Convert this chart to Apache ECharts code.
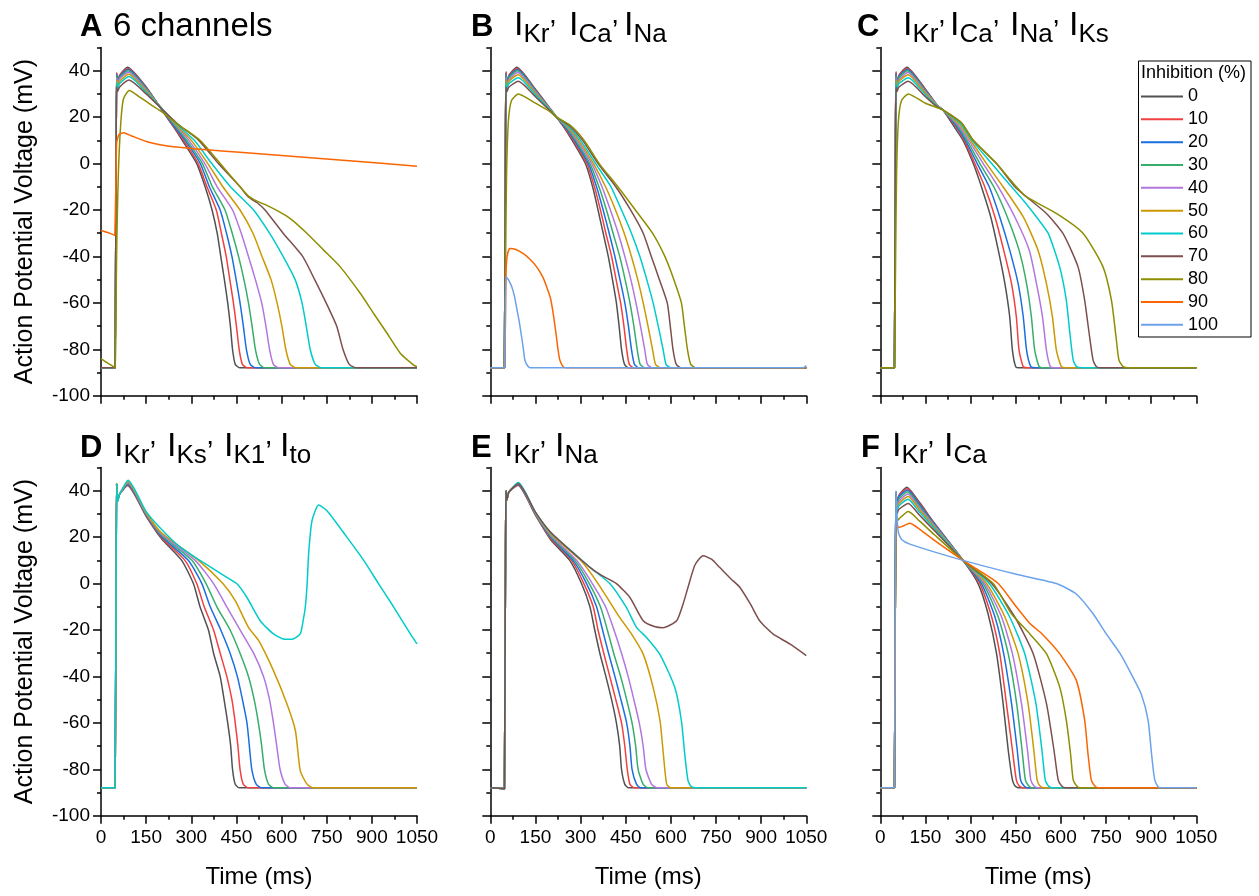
<!DOCTYPE html>
<html>
<head>
<meta charset="utf-8">
<script src="https://cdn.jsdelivr.net/npm/echarts@6/dist/echarts.min.js"></script>
<style>html,body{margin:0;padding:0;background:#fff}#c{width:1259px;height:896px}</style>
</head>
<body>
<div id="c"></div>
<script>
// ---------------- DATA ----------------
const levels = ['0','10','20','30','40','50','60','70','80','90','100'];
const yTickValues = [-100,-80,-60,-40,-20,0,20,40];

// Panel A: 6 channels
const apA = [
[[0,-88],[47,-88],[49,-88],[50.5,10],[52,39],[55,35],[62,38],[88,41.5],[150,33],[200,23.5],[240,16],[270,10],[318,0],[346,-10],[369,-20],[386,-30],[398,-40],[410,-50],[421,-60],[430,-70],[437,-80],[446,-86.5],[462,-88],[1050,-88]],
[[0,-88],[47,-88],[49,-88],[50.5,10],[52,39],[55,35],[62,38],[89,41],[150,32.8],[200,23.6],[240,16.3],[275,10],[323,0],[352,-10],[383,-20],[400,-30],[416,-40],[428,-50],[440,-60],[450,-70],[459,-80],[470,-86.5],[488,-88],[1050,-88]],
[[0,-88],[47,-88],[49,-88],[50.5,10],[52,38.5],[55,35],[62,37.5],[90,40.5],[150,32.5],[200,23.7],[240,16.6],[280,10],[330,0],[360,-10],[396,-20],[417,-30],[435,-40],[449,-50],[462,-60],[473,-70],[483,-80],[496,-86.5],[515,-88],[1050,-88]],
[[0,-88],[47,-88],[49,-88],[50.5,10],[52,38],[55,34.5],[62,37],[90,40],[150,32.2],[200,23.8],[245,16.5],[285,10],[337,0],[370,-10],[412,-20],[436,-30],[457,-40],[475,-50],[490,-60],[502,-70],[513,-80],[527,-86.5],[545,-88],[1050,-88]],
[[0,-88],[47,-88],[49,-88],[50.5,10],[52,37],[55,34],[62,36.5],[91,39.3],[150,31.8],[200,23.9],[250,16.3],[292,10],[345,0],[386,-10],[437,-20],[466,-30],[490,-40],[513,-50],[534,-60],[548,-70],[560,-80],[573,-86.5],[592,-88],[1050,-88]],
[[0,-88],[47,-88],[49,-88],[50.5,10],[52,36],[55,33],[62,35.5],[92,38.5],[150,31.3],[200,24],[250,16.6],[300,10],[355,0],[405,-10],[462,-20],[505,-30],[535,-40],[565,-50],[585,-60],[601,-70],[614,-80],[629,-86.5],[650,-88],[1050,-88]],
[[0,-88],[47,-88],[49,-88],[50.5,10],[52,35],[55,32],[62,34.5],[93,37.5],[150,30.7],[200,24],[255,16.5],[310,10],[368,0],[430,-10],[507,-20],[560,-30],[605,-40],[645,-50],[668,-60],[682,-70],[695,-80],[712,-86.5],[735,-88],[1050,-88]],
[[0,-88],[47,-88],[49,-88],[50.5,10],[52,33],[55,31],[62,33],[93,36],[150,30],[200,23.8],[260,16.5],[325,10],[390,0],[462,-10],[490,-14.4],[520,-17],[545,-20],[605,-30],[670,-40],[710,-50],[748,-60],[783,-70],[804,-80],[825,-86.5],[850,-88],[1050,-88]],
[[0,-84],[20,-85.8],[45,-87.8],[48,-88],[50,-60],[53,-30],[58,-3],[66,18],[75,28],[94,31.5],[130,28.5],[170,25],[200,22.5],[260,16.5],[329,10],[396,0],[462,-10],[490,-14],[520,-16.3],[551,-18],[590,-20.6],[629,-23.7],[684,-30],[740,-37.3],[795,-44.5],[862,-56],[906,-64.6],[950,-73],[995,-81.8],[1039,-86.8],[1050,-87.5]],
[[0,-28.7],[25,-29.8],[46,-30.9],[48,-31],[50,-5],[52,9],[60,12.5],[75,13.3],[100,12],[150,9.5],[200,8],[260,7],[374,5.7],[450,5],[600,3.5],[750,2],[900,0.5],[1050,-1.2]],
null
];

// Panel B: IKr, ICa, INa
const apB = [
[[0,-88],[47,-88],[49,-88],[50.5,10],[52,39.5],[55,35],[62,38],[88,41.5],[150,32],[200,23.5],[220,20],[248,15],[272,10],[316,0],[340,-10],[358,-20],[375,-30],[392,-40],[406,-50],[419,-60],[428,-70],[436,-80],[446,-86.5],[460,-88],[1050,-88]],
[[0,-88],[47,-88],[49,-88],[50.5,10],[52,39],[55,35],[62,38],[89,41],[150,31.8],[200,23.4],[220,20],[250,15],[276,10],[321,0],[346,-10],[366,-20],[384,-30],[403,-40],[418,-50],[433,-60],[444,-70],[453,-80],[462,-86.5],[478,-88],[1050,-88]],
[[0,-88],[47,-88],[49,-88],[50.5,10],[52,38.5],[55,34.5],[62,37.5],[90,40.5],[150,31.5],[200,23.3],[220,20],[252,15.2],[280,10],[326,0],[353,-10],[375,-20],[395,-30],[414,-40],[431,-50],[447,-60],[459,-70],[469,-80],[479,-86.5],[495,-88],[1050,-88]],
[[0,-88],[47,-88],[49,-88],[50.5,10],[52,38],[55,34],[62,37],[90,40],[150,31.2],[200,23.2],[220,20],[254,15.4],[284,10],[331,0],[361,-10],[386,-20],[408,-30],[430,-40],[448,-50],[464,-60],[477,-70],[488,-80],[498,-86.5],[515,-88],[1050,-88]],
[[0,-88],[47,-88],[49,-88],[50.5,10],[52,37],[55,33.5],[62,36],[91,39.2],[150,30.8],[200,23.1],[220,20],[256,15.6],[289,10],[337,0],[371,-10],[399,-20],[425,-30],[447,-40],[467,-50],[484,-60],[499,-70],[513,-80],[522,-86.5],[540,-88],[1050,-88]],
[[0,-88],[47,-88],[49,-88],[50.5,10],[52,36],[55,33],[62,35.5],[92,38.3],[150,30.3],[200,23],[220,20],[258,15.8],[294,10],[343,0],[383,-10],[416,-20],[445,-30],[469,-40],[490,-50],[508,-60],[524,-70],[539,-80],[549,-86.5],[568,-88],[1050,-88]],
[[0,-88],[47,-88],[49,-88],[50.5,10],[52,35],[55,32],[62,34.5],[93,37],[150,29.6],[200,22.8],[220,20],[260,16],[300,10],[350,0],[401,-10],[436,-20],[469,-30],[497,-40],[520,-50],[541,-60],[558,-70],[574,-80],[584,-86.5],[602,-88],[1050,-88]],
[[0,-88],[47,-88],[49,-88],[50.5,10],[52,33],[55,31],[62,33],[93,35.5],[150,28.8],[200,22.5],[220,20],[263,16.3],[307,10],[358,0],[417,-10],[466,-20],[508,-30],[535,-40],[562,-50],[588,-60],[598,-70],[607,-80],[618,-86.5],[636,-88],[1050,-88]],
[[0,-88],[47,-88],[49,-88],[51,-40],[54,-5],[60,18],[70,27],[93,30],[150,26],[200,22.2],[220,20],[265,16.6],[312,10],[362,0],[424,-10],[482,-20],[539,-30],[580,-40],[610,-50],[635,-60],[645,-70],[655,-80],[666,-86.5],[685,-88],[1050,-88]],
[[0,-88],[47,-88],[49,-88],[50,-70],[52,-48],[56,-40],[65,-36.6],[85,-37],[110,-38.8],[130,-41],[154,-44.5],[175,-49],[187,-53],[200,-58],[209,-64.6],[216,-71],[221,-76],[226,-81],[231,-84.6],[242,-87.5],[255,-88],[1050,-88]],
[[0,-88],[47,-88],[49,-88],[50,-70],[52,-48.8],[60,-50],[71,-53],[80,-57],[87,-61.7],[96,-68],[104,-74.6],[110,-80],[115,-84.7],[125,-87.3],[135,-88],[1040,-88],[1050,-87]]
];

// Panel C: IKr, ICa, INa, IKs
const apC = [
[[0,-88],[47,-88],[49,-88],[50.5,10],[52,39.5],[55,35],[62,38],[88,41.5],[150,32],[190,25],[209,23],[250,15],[275,10],[309,0],[336,-10],[367,-23],[392,-37.3],[414,-51.7],[430,-66],[439,-80.4],[450,-87.5],[465,-88],[1050,-88]],
[[0,-88],[47,-88],[49,-88],[50.5,10],[52,39],[55,35],[62,38],[89,41],[150,31.8],[190,25],[209,23],[250,16],[279,10],[314,0],[347,-10],[381,-23],[410,-37.3],[436,-51.7],[452,-66],[461,-80.4],[475,-87.5],[490,-88],[1050,-88]],
[[0,-88],[47,-88],[49,-88],[50.5,10],[52,38.5],[55,34.5],[62,37.5],[90,40.5],[150,31.5],[190,25],[209,23],[252,16.3],[283,10],[322,0],[362,-10],[397,-23],[430,-37.3],[458,-51.7],[475,-66],[486,-80.4],[500,-87.5],[515,-88],[1050,-88]],
[[0,-88],[47,-88],[49,-88],[50.5,10],[52,38],[55,34],[62,37],[90,40],[150,31.2],[190,25],[209,23],[255,16.5],[288,10],[331,0],[377,-10],[422,-23],[461,-37.3],[486,-51.7],[502,-66],[513,-80.4],[528,-87.5],[545,-88],[1050,-88]],
[[0,-88],[47,-88],[49,-88],[50.5,10],[52,37],[55,33.5],[62,36],[91,39.2],[150,30.8],[190,25],[209,23],[258,16.7],[294,10],[342,0],[392,-10],[447,-23],[495,-37.3],[519,-51.7],[539,-66],[552,-80.4],[565,-87.5],[582,-88],[1050,-88]],
[[0,-88],[47,-88],[49,-88],[50.5,10],[52,36],[55,33],[62,35.5],[92,38.3],[150,30.3],[190,24.8],[209,23],[262,17],[300,10],[353,0],[408,-10],[475,-23],[524,-37.3],[552,-51.7],[572,-66],[585,-80.4],[602,-87.5],[620,-88],[1050,-88]],
[[0,-88],[47,-88],[49,-88],[50.5,10],[52,35],[55,32],[62,34.5],[93,37],[150,29.6],[190,24.6],[209,23],[266,17.3],[305,10],[370,0],[436,-10],[475,-15.8],[519,-23],[558,-30.1],[596,-44.5],[618,-58.8],[630,-73.2],[641,-84.7],[652,-87.5],[670,-88],[1050,-88]],
[[0,-88],[47,-88],[49,-88],[50.5,10],[52,33],[55,31],[62,33],[93,35.5],[150,28.8],[190,24.3],[209,23],[270,17.5],[309,10],[386,0],[447,-10],[486,-14.4],[552,-21.5],[607,-30.1],[657,-44.5],[679,-58.8],[694,-73.2],[707,-84.7],[718,-87.5],[735,-88],[1050,-88]],
[[0,-88],[47,-88],[49,-88],[51,-40],[54,-5],[60,18],[70,27],[93,30],[150,26],[209,23],[270,17.5],[309,10],[386,0],[452,-10],[486,-14.4],[585,-21.5],[674,-30.1],[740,-44.5],[768,-58.8],[782,-73.2],[793,-84.7],[807,-87.5],[825,-88],[1050,-88]],
null,
null
];

// Panel D: IKr, IKs, IK1, Ito
const apD = [
[[0,-88],[47,-88],[49,-88],[50.5,10],[52,43],[55,35.5],[62,38.5],[88,42.2],[150,29],[200,19.5],[268,10],[307,0],[329,-10],[357,-20],[374,-30],[396,-40],[409,-50],[421,-60],[431,-70],[437,-80],[446,-86.5],[460,-88],[1050,-88]],
[[0,-88],[47,-88],[49,-88],[50.5,10],[52,43],[55,35.5],[62,38.5],[88,42.5],[150,29.3],[200,20],[279,10],[318,0],[343,-10],[374,-20],[396,-30],[418,-40],[435,-50],[446,-60],[455,-70],[462,-80],[473,-86.5],[490,-88],[1050,-88]],
[[0,-88],[47,-88],[49,-88],[50.5,10],[52,43],[55,35.5],[62,38.5],[89,42.8],[150,29.6],[200,20.5],[290,10],[335,0],[363,-10],[398,-20],[429,-30],[453,-40],[470,-50],[485,-60],[493,-70],[501,-80],[516,-86.5],[535,-88],[1050,-88]],
[[0,-88],[47,-88],[49,-88],[50.5,10],[52,43],[55,35.5],[62,38.5],[89,43.2],[150,29.9],[200,21],[302,10],[349,0],[385,-10],[429,-20],[462,-30],[490,-40],[509,-50],[523,-60],[534,-70],[543,-80],[557,-86.5],[575,-88],[1050,-88]],
[[0,-88],[47,-88],[49,-88],[50.5,10],[52,43],[55,35.5],[62,38.5],[90,43.5],[150,30.2],[200,21.5],[313,10],[374,0],[418,-10],[462,-20],[507,-30],[540,-40],[560,-50],[573,-60],[584,-70],[595,-80],[612,-86.5],[630,-88],[1050,-88]],
[[0,-88],[47,-88],[49,-88],[50.5,10],[52,43],[55,35.5],[62,38.5],[90,44],[150,30.5],[200,22],[324,10],[405,0],[446,-7.4],[490,-18.9],[524,-24.6],[573,-37.5],[618,-51.9],[646,-63.4],[662,-80.6],[684,-86.3],[705,-88],[1050,-88]],
[[0,-88],[47,-88],[49,-88],[50.5,10],[52,43],[55,35.5],[62,38.5],[90,44.5],[150,31],[200,23.5],[260,16],[329,10],[418,2.7],[451,0],[485,-6],[529,-16],[573,-21.7],[610,-24],[635,-24],[662,-21.7],[673,-15],[679,-10],[685,0],[690,13],[701,27],[723,33.8],[751,31.4],[817,20],[873,10],[922,0],[972,-10],[1028,-21.7],[1050,-26]],
null, null, null, null
];

// Panel E: IKr, INa
const apE = [
[[0,-88],[40,-88.3],[47,-88.5],[49,-88.5],[50.5,10],[52,40],[55,36],[62,39.5],[92,42.3],[150,29.5],[200,19],[264,10],[303,0],[331,-10],[347,-20],[364,-30],[384,-40],[403,-50],[419,-60],[430,-70],[436,-80],[447,-86.5],[460,-88],[1050,-88]],
[[0,-88],[40,-88.3],[47,-88.5],[49,-88.5],[50.5,10],[52,40],[55,36],[62,39.5],[92,42.5],[150,29.7],[200,19.5],[270,10],[311,0],[342,-10],[358,-20],[377,-30],[397,-40],[417,-50],[436,-60],[447,-70],[455,-80],[464,-86.5],[480,-88],[1050,-88]],
[[0,-88],[40,-88.3],[47,-88.5],[49,-88.5],[50.5,10],[52,40],[55,36],[62,39.5],[92,42.7],[150,29.9],[200,20],[275,10],[320,0],[353,-10],[373,-20],[393,-30],[414,-40],[434,-50],[453,-60],[464,-70],[471,-80],[486,-86.5],[500,-88],[1050,-88]],
[[0,-88],[40,-88.3],[47,-88.5],[49,-88.5],[50.5,10],[52,40],[55,36],[62,39.5],[93,42.9],[150,30.1],[200,20.5],[281,10],[329,0],[366,-10],[389,-20],[410,-30],[433,-40],[453,-50],[471,-60],[483,-70],[491,-80],[508,-86.5],[525,-88],[1050,-88]],
[[0,-88],[40,-88.3],[47,-88.5],[49,-88.5],[50.5,10],[52,40],[55,36],[62,39.5],[93,43.1],[150,30.3],[200,21],[287,10],[339,0],[383,-10],[411,-20],[436,-30],[458,-40],[477,-50],[495,-60],[508,-70],[517,-80],[536,-86.5],[555,-88],[1050,-88]],
[[0,-88],[40,-88.3],[47,-88.5],[49,-88.5],[50.5,10],[52,40],[55,36],[62,39.5],[93,43.3],[150,30.5],[200,21.5],[300,10],[358,0],[430,-14.6],[469,-21.7],[508,-30.4],[541,-44.7],[564,-59.1],[575,-73.4],[586,-86.4],[600,-88],[1050,-88]],
[[0,-88],[40,-88.3],[47,-88.5],[49,-88.5],[50.5,10],[52,40],[55,36],[62,39.5],[93,43.5],[150,30.7],[200,22],[270,14],[331,7],[397,0],[452,-10.3],[486,-18.9],[519,-23.2],[563,-30.4],[613,-44.7],[635,-59.1],[646,-73.4],[657,-84.9],[668,-87.5],[685,-88],[1050,-88]],
[[0,-88],[40,-88.3],[47,-88.5],[49,-88.5],[50.5,10],[52,40],[55,36],[62,39.5],[93,43],[150,30.8],[200,22.2],[260,15],[331,7],[370,3.5],[419,0],[464,-6],[508,-16],[545,-18.5],[574,-19],[619,-16],[640,-9],[657,-1.6],[680,8],[707,12],[735,10.5],[762,7],[800,2],[829,-1.6],[865,-9],[895,-16],[939,-21.7],[995,-26],[1050,-31]],
null, null, null
];

// Panel F: IKr, ICa
const apF = [
[[0,-88],[47,-88],[49,-88],[50.5,10],[52,39.5],[55,35],[62,38],[88,41.5],[130,35],[180,26],[275,10],[325,0],[358,-13],[386,-30],[408,-51.6],[425,-71.7],[439,-84.6],[447,-87.1],[460,-88],[1050,-88]],
[[0,-88],[47,-88],[49,-88],[50.5,10],[52,39],[55,35],[62,38],[89,41],[130,34.5],[180,25.8],[275,10],[331,0],[370,-14.4],[397,-30.2],[419,-51.6],[439,-71.7],[452,-84.6],[461,-87.1],[475,-88],[1050,-88]],
[[0,-88],[47,-88],[49,-88],[50.5,10],[52,38.5],[55,34.5],[62,37.5],[90,40.3],[130,34],[180,25.6],[275,10],[336,0],[381,-14.4],[410,-30.2],[436,-51.6],[455,-71.7],[466,-84.6],[477,-87.1],[490,-88],[1050,-88]],
[[0,-88],[47,-88],[49,-88],[50.5,10],[52,38],[55,34],[62,36.5],[90,39.5],[130,33.3],[180,25.1],[275,10],[342,0],[392,-14.4],[425,-30.2],[453,-51.6],[471,-71.7],[482,-84.6],[493,-87.1],[505,-88],[1050,-88]],
[[0,-88],[47,-88],[49,-88],[50.5,10],[52,37],[55,33],[62,35.5],[91,38.6],[130,32.6],[180,24.8],[275,10],[347,0],[403,-14.4],[439,-30.2],[469,-51.6],[489,-71.7],[500,-84.6],[510,-87.1],[522,-88],[1050,-88]],
[[0,-88],[47,-88],[49,-88],[50.5,10],[52,36],[55,32],[62,34.5],[92,37.5],[130,31.8],[180,24.3],[275,10],[353,0],[414,-14.4],[458,-30.2],[491,-51.6],[510,-71.7],[521,-84.6],[530,-87.1],[542,-88],[1050,-88]],
[[0,-88],[47,-88],[49,-88],[50.5,10],[52,35],[55,31],[62,33.5],[92,36.3],[130,30.8],[180,23.7],[275,10],[362,0],[430,-14.4],[480,-30.2],[517,-51.6],[537,-71.7],[548,-84.6],[558,-87.1],[570,-88],[1050,-88]],
[[0,-88],[47,-88],[49,-88],[50.5,10],[52,34],[55,30],[62,32],[93,34.5],[130,29.5],[180,22.8],[275,10],[370,0],[447,-14.4],[508,-30.2],[552,-51.6],[577,-71.7],[591,-84.6],[602,-87.1],[615,-88],[1050,-88]],
[[0,-88],[47,-88],[49,-88],[50.5,10],[52,34],[56,27],[63,28],[93,31],[130,27],[180,21],[275,10],[375,0],[436,-13],[497,-21.7],[552,-30.2],[596,-44.5],[618,-58.8],[632,-73.2],[641,-84.6],[652,-87.1],[665,-88],[1050,-88]],
[[0,-88],[47,-88],[49,-88],[50.5,5],[52,30],[56,24.5],[65,24.3],[98,26],[130,23.5],[180,18.6],[275,10],[330,5.5],[392,0],[452,-10],[497,-17.2],[536,-21.5],[596,-30.2],[651,-41.6],[679,-58.8],[690,-73.2],[701,-84.6],[712,-87.1],[725,-88],[1050,-88]],
[[0,-88],[47,-88],[49,-88],[50.5,10],[52,40],[55,30],[60,22],[71,19],[98,17],[275,10],[452,4],[585,0],[651,-4.5],[707,-13],[751,-21.7],[796,-30],[834,-39],[867,-47.6],[890,-59],[901,-73],[912,-84.6],[928,-88],[1050,-88]]
];

const panels = [apA, apB, apC, apD, apE, apF];

// Panel title text: letter, plain text or I-with-subscript groups
const titleText = [
  {letter: 'A', text: '6 channels'},
  {letter: 'B', subs: ['Kr','Ca','Na']},
  {letter: 'C', subs: ['Kr','Ca','Na','Ks']},
  {letter: 'D', subs: ['Kr','Ks','K1','to']},
  {letter: 'E', subs: ['Kr','Na']},
  {letter: 'F', subs: ['Kr','Ca']}
];

// ---------------- STYLE / LAYOUT ----------------
const palette = ['#515151','#F14040','#1A6FDF','#37AD6B','#B177DE','#CC9900','#00CBCC','#7D4E4E','#8E8E00','#FB6501','#6CA2EA'];
const FONT = '"Liberation Sans", Arial, Helvetica, sans-serif';
const colLeft = [101, 490.3, 880.3];
const rowTop = [47.5, 467.5];
const gridW = 316, gridH = 348.2;

const grids = [], xAxes = [], yAxes = [], series = [];
for (let i = 0; i < 6; i++) {
  const col = i % 3, row = Math.floor(i / 3);
  grids.push({left: colLeft[col], top: rowTop[row], width: gridW, height: gridH, containLabel: false});
  xAxes.push({
    gridIndex: i, type: 'value', min: 0, max: 1050, interval: 150,
    axisLine: {show: true, onZero: false, lineStyle: {color: '#000', width: 1.5}},
    axisTick: {show: true, inside: false, length: 8, lineStyle: {color: '#000', width: 1.5}},
    minorTick: {show: true, splitNumber: 2, length: 4, lineStyle: {color: '#000', width: 1.5}},
    splitLine: {show: false}, minorSplitLine: {show: false},
    axisLabel: {show: row === 1, fontSize: 19, color: '#000', margin: 13, fontFamily: FONT,
      formatter: v => String(v)},
    name: row === 1 ? 'Time (ms)' : '', nameLocation: 'middle', nameGap: 50,
    nameTextStyle: {fontSize: 24, color: '#000', fontFamily: FONT}
  });
  yAxes.push({
    gridIndex: i, type: 'value', min: -100, max: 50, position: 'left',
    axisLine: {show: true, onZero: false, lineStyle: {color: '#000', width: 1.5}},
    axisTick: {show: true, inside: false, length: 8, customValues: yTickValues, lineStyle: {color: '#000', width: 1.5}},
    axisLabel: {show: col === 0, customValues: yTickValues, fontSize: 19, color: '#000', margin: 11, fontFamily: FONT},
    splitLine: {show: false},
    name: col === 0 ? 'Action Potential Voltage (mV)' : '', nameLocation: 'middle', nameGap: 63,
    nameTextStyle: {fontSize: 25, color: '#000', fontFamily: FONT}
  });
  yAxes.push({
    gridIndex: i, type: 'value', min: -100, max: 50, interval: 10, position: 'left',
    axisLine: {show: false, onZero: false},
    axisTick: {show: true, inside: false, length: 4, lineStyle: {color: '#000', width: 1.5}},
    axisLabel: {show: false}, splitLine: {show: false}
  });
  panels[i].forEach((curve, k) => {
    if (!curve) return;
    series.push({
      type: 'line', name: levels[k], xAxisIndex: i, yAxisIndex: 2 * i,
      data: curve, showSymbol: false, symbol: 'none', smooth: 0.2,
      lineStyle: {width: 1.5, color: palette[k]}, itemStyle: {color: palette[k]},
      animation: false, silent: true
    });
  });
}

// Title layout: glyph-left x of letter and of each "I"
const titleLayout = [
  {row: 0, lx: 80, tx: 113, ix: []},
  {row: 0, lx: 471, ix: [517, 572, 627]},
  {row: 0, lx: 857, ix: [906, 953, 1013, 1072]},
  {row: 1, lx: 80, ix: [117, 170, 227, 283]},
  {row: 1, lx: 471, ix: [507, 558]},
  {row: 1, lx: 861, ix: [895, 947]}
];
const SZ = {L: 31, M: 33, I: 34, S: 26, C: 28};
const CY = {L: 27, M: 27, I: 25.8, S: 34.7, C: 15};
const rowOffset = [0, 421];
const measureCtx = document.createElement('canvas').getContext('2d');
function textWidth(t, size, weight) {
  measureCtx.font = (weight || 'normal') + ' ' + size + 'px ' + FONT;
  return measureCtx.measureText(t).width;
}
function frag(t, kind, x, row, weight) {
  return {type: 'text', left: x, top: CY[kind] + rowOffset[row] - SZ[kind] / 2, silent: true,
    style: {text: t, font: (weight || 'normal') + ' ' + SZ[kind] + 'px ' + FONT, fill: '#000', lineHeight: SZ[kind]}};
}
const graphic = [];
titleText.forEach((tt, p) => {
  const L = titleLayout[p];
  graphic.push(frag(tt.letter, 'L', L.lx, L.row, 'bold'));
  if (tt.text) graphic.push(frag(tt.text, 'M', L.tx, L.row));
  if (tt.subs) tt.subs.forEach((s, j) => {
    const ix = L.ix[j] - 3;
    graphic.push(frag('I', 'I', ix, L.row));
    const sx = L.ix[j] + 6.5;
    graphic.push(frag(s, 'S', sx, L.row));
    if (j < tt.subs.length - 1) graphic.push(frag(',', 'C', sx + textWidth(s, SZ.S) - 0.5, L.row));
  });
});
graphic.push({type: 'rect', shape: {x: 1138.5, y: 61, width: 112.5, height: 276}, silent: true,
  style: {fill: 'none', stroke: '#000', lineWidth: 1}});
graphic.push({type: 'text', left: 1141, top: 64, silent: true,
  style: {text: 'Inhibition (%)', font: '18px ' + FONT, fill: '#000'}});

const chart = echarts.init(document.getElementById('c'), null, {renderer: 'canvas'});
chart.setOption({
  animation: false,
  backgroundColor: '#fff',
  textStyle: {fontFamily: FONT},
  grid: grids, xAxis: xAxes, yAxis: yAxes, series: series,
  legend: {
    data: levels, orient: 'vertical', left: 1141, top: 87.5, padding: 0,
    itemWidth: 42, itemHeight: 2, itemGap: 4.83, icon: 'rect', selectedMode: false,
    textStyle: {fontSize: 18, lineHeight: 18, color: '#000', fontFamily: FONT}
  },
  graphic: graphic
});
</script>
</body>
</html>
